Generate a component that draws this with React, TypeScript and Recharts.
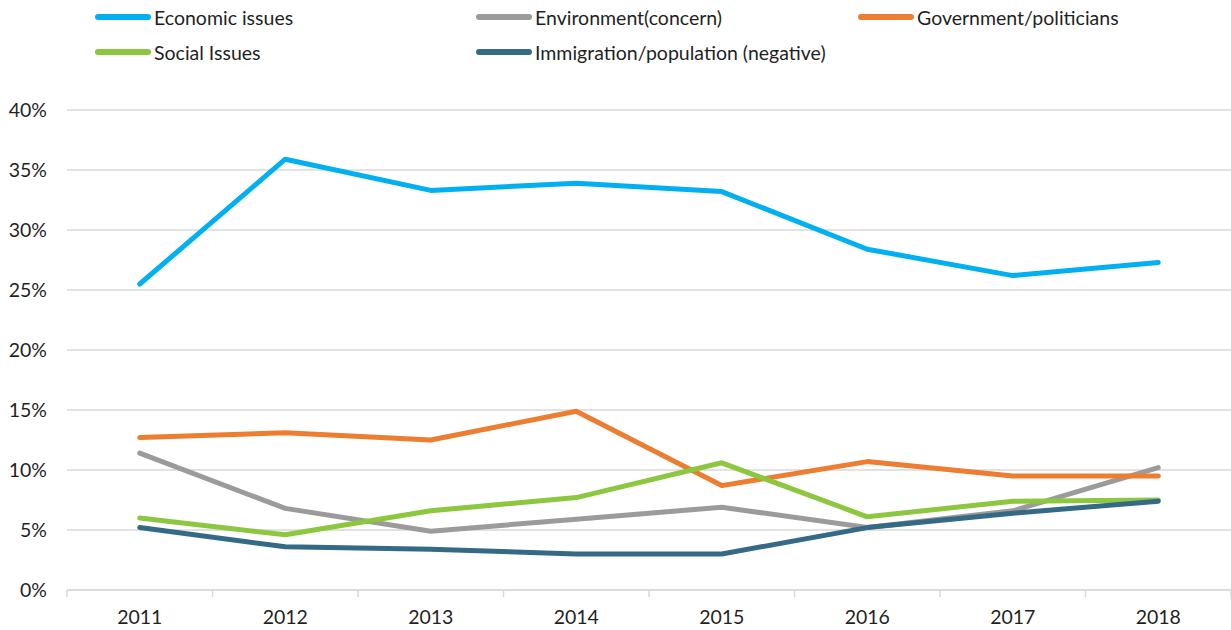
import React from 'react';
import { LineChart, Line, XAxis, YAxis, CartesianGrid } from 'recharts';

const years = ['2011', '2012', '2013', '2014', '2015', '2016', '2017', '2018'];
const economic = [25.5, 35.9, 33.3, 33.9, 33.2, 28.4, 26.2, 27.3];
const environment = [11.4, 6.8, 4.9, 5.9, 6.9, 5.2, 6.6, 10.2];
const government = [12.7, 13.1, 12.5, 14.9, 8.7, 10.7, 9.5, 9.5];
const social = [6.0, 4.6, 6.6, 7.7, 10.6, 6.1, 7.4, 7.5];
const immigration = [5.2, 3.6, 3.4, 3.0, 3.0, 5.2, 6.4, 7.4];
const yTicks = [0, 5, 10, 15, 20, 25, 30, 35, 40];

const series = [
  { key: 'economic', name: 'Economic issues', color: '#00b0f0', values: economic },
  { key: 'environment', name: 'Environment(concern)', color: '#9b9b9b', values: environment },
  { key: 'government', name: 'Government/politicians', color: '#ed7d31', values: government },
  { key: 'social', name: 'Social Issues', color: '#8dc63f', values: social },
  { key: 'immigration', name: 'Immigration/population (negative)', color: '#346a86', values: immigration },
];

const data = years.map((y, i) => {
  const row: any = { idx: i, year: y };
  series.forEach((s) => (row[s.key] = s.values[i]));
  return row;
});

const xTicks: number[] = [];
for (let i = 0; i <= years.length * 2; i++) xTicks.push(i / 2 - 0.5);

const FONT = 'Lato, "Open Sans", sans-serif';
const FS = 19.5;

const XTick = (props: any) => {
  const { x, y, payload } = props;
  const v = payload.value as number;
  if (Math.abs(v - Math.round(v)) > 0.01) {
    return <line x1={x} x2={x} y1={y} y2={y + 7} stroke="#d9d9d9" strokeWidth={1.5} />;
  }
  return (
    <text x={x} y={y + 34} textAnchor="middle" fontSize={FS} fill="#1f1f1f" fontFamily={FONT}>
      {years[Math.round(v)]}
    </text>
  );
};

const legendPos = [
  { left: 95, top: 17 },
  { left: 476, top: 17 },
  { left: 858, top: 17 },
  { left: 95, top: 52 },
  { left: 476, top: 52 },
];

export default function App() {
  return (
    <div style={{ position: 'absolute', left: 0, top: 0, width: 1231, height: 630, background: '#fff' }}>
      {series.map((s, i) => (
        <div
          key={s.key}
          style={{
            position: 'absolute',
            left: legendPos[i].left,
            top: legendPos[i].top - 14,
            height: 28,
            display: 'flex',
            alignItems: 'center',
            fontFamily: FONT,
            fontSize: FS,
            color: '#1f1f1f',
            whiteSpace: 'nowrap',
          }}
        >
          <span style={{ display: 'inline-block', width: 56, height: 6, borderRadius: 3, background: s.color, marginRight: 3 }} />
          <span>{s.name}</span>
        </div>
      ))}
      <LineChart
        width={1231}
        height={630}
        data={data}
        margin={{ top: 110, right: 0, left: 0, bottom: 0 }}
        style={{ position: 'absolute', left: 0, top: 0 }}
      >
        <CartesianGrid vertical={false} stroke="#d9d9d9" strokeWidth={1.5} />
        <XAxis
          dataKey="idx"
          type="number"
          domain={[-0.5, 7.5]}
          ticks={xTicks}
          interval={0}
          tick={<XTick />}
          tickLine={false}
          tickSize={0}
          tickMargin={0}
          axisLine={{ stroke: '#d9d9d9', strokeWidth: 1.5 }}
          height={40}
        />
        <YAxis
          domain={[0, 40]}
          ticks={yTicks}
          interval={0}
          tickFormatter={(v: number) => `${v}%`}
          axisLine={false}
          tickLine={false}
          tickSize={0}
          tickMargin={20}
          width={67}
          tick={{ fontSize: FS, fill: '#1f1f1f', fontFamily: FONT }}
        />
        {series.map((s) => (
          <Line
            key={s.key}
            dataKey={s.key}
            name={s.name}
            stroke={s.color}
            strokeWidth={5}
            strokeLinecap="round"
            strokeLinejoin="round"
            dot={false}
            activeDot={false}
            isAnimationActive={false}
            type="linear"
          />
        ))}
      </LineChart>
    </div>
  );
}
